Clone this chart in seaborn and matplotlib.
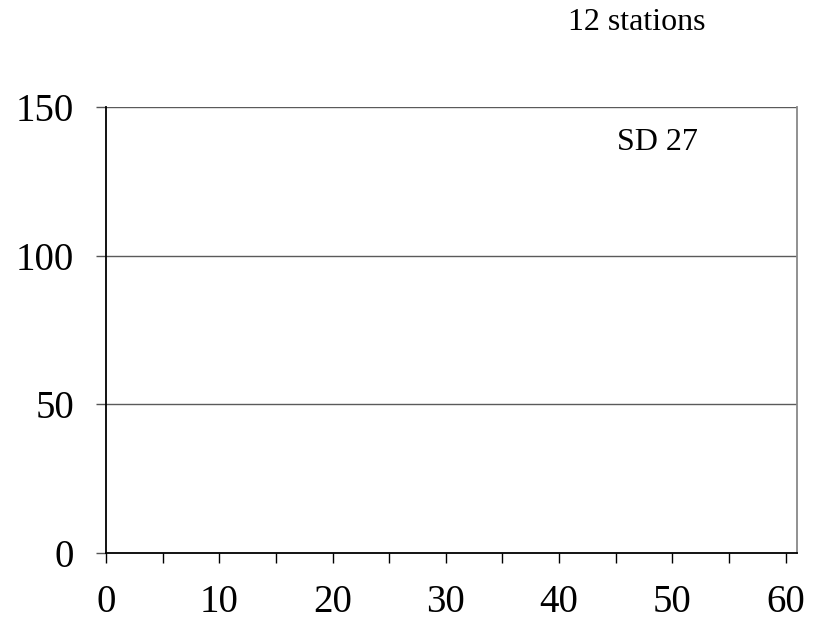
import matplotlib
matplotlib.use("Agg")
import matplotlib.pyplot as plt
import seaborn as sns
import pandas as pd

# Data (the reference chart shows no plotted marks)
depth = []
value = []
x_ticks = [0, 10, 20, 30, 40, 50, 60]
y_ticks = [0, 50, 100, 150]
title_text = "12 stations"
panel_label = "SD 27"

sns.set_theme(style="white")
plt.rcParams['font.family'] = ['Liberation Serif', 'DejaVu Serif']
plt.rcParams['text.color'] = 'black'
plt.rcParams['xtick.color'] = 'black'
plt.rcParams['ytick.color'] = 'black'

fig = plt.figure(figsize=(8.29, 6.28), dpi=100)
ax = fig.add_axes([106/829, 1 - 553/628, (797 - 106)/829, (553 - 107)/628])

df = pd.DataFrame({"x": pd.Series(depth, dtype=float), "y": pd.Series(value, dtype=float)})
sns.lineplot(data=df, x="x", y="y", ax=ax, color="black")

ax.set_xlim(0, 61)
ax.set_ylim(0, 150)
ax.set_xticks(list(range(0, 61, 5)))
ax.set_xticklabels([str(v) if v in x_ticks else "" for v in range(0, 61, 5)])
ax.set_yticks(y_ticks)
ax.set_yticklabels([str(v) for v in y_ticks])
ax.set_xlabel("")
ax.set_ylabel("")

for v in y_ticks[1:]:
    ax.axhline(v, color="#5a5a5a", lw=1.0, zorder=1)

ax.tick_params(axis="x", direction="out", length=7, width=1, color="black",
               labelcolor="black", labelsize=28, pad=15, bottom=True)
ax.tick_params(axis="y", direction="out", length=7, width=1, color="#555555",
               labelcolor="black", labelsize=28, pad=16, left=True)

for s in ["left", "bottom"]:
    ax.spines[s].set_color("black")
    ax.spines[s].set_linewidth(1.3)
for s in ["top", "right"]:
    ax.spines[s].set_color("#888888")
    ax.spines[s].set_linewidth(1.3)
ax.spines["top"].set_visible(False)

ax.text(0.74, 0.92, panel_label, transform=ax.transAxes, fontsize=23,
        ha="left", va="center", color="black")
fig.text(568/829, 1 - 23/628, title_text, fontsize=23, ha="left", va="center", color="black")

fig.savefig("out.png", dpi=100)
